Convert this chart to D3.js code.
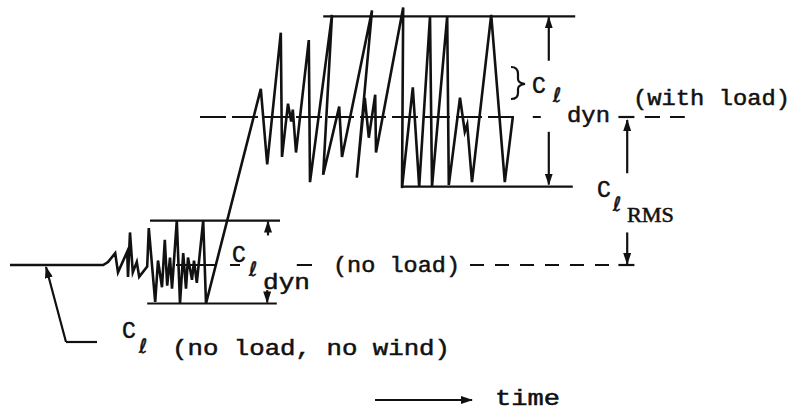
<!DOCTYPE html>
<html>
<head>
<meta charset="utf-8">
<script src="https://cdn.jsdelivr.net/npm/d3@7"></script>
<style>
  body { margin: 0; background: #fff; }
  text { fill: #111; stroke: #111; stroke-width: 0.5px; }
</style>
</head>
<body>
<div id="chart"></div>
<script>
// time in arbitrary units (0-100), Cl normalised: no-load mean = 0, with-load mean = 1
const noWindTime = [1.25, 12.9];
const noWindCl = [0, 0];

const noLoadTime = [13.5, 14.4, 14.75, 15.9, 16, 16.25, 16.6, 17.1, 17.4, 18.4, 18.6, 19.4, 19.75,
  20.25, 20.6, 20.9, 21.25, 21.5, 22.1, 22.5, 22.9, 23.25, 23.5, 24, 24.25, 24.6, 25.4, 25.75];
const noLoadCl = [0.02, 0.08, -0.05, 0.09, -0.08, 0.22, -0.05, 0.02, -0.08, -0.01, 0.25, -0.25, 0.03,
  -0.15, 0.17, -0.14, 0.05, -0.16, 0.30, -0.26, 0.08, -0.16, 0.05, -0.10, 0.03, -0.12, 0.30, -0.26];

const withLoadTime = [32.6, 33.4, 35.1, 35.25, 36, 36.4, 36.6, 37, 38.6, 38.75, 41.5, 40.4, 42.4, 42.75,
  46.5, 44.6, 45.6, 46.1, 46.9, 47, 50.4, 50.25, 51.6, 52.4, 53.75, 54, 55.9, 56.1, 57.5, 58.1, 58.4,
  59, 61.4, 63.1, 64.1];
const withLoadCl = [1.19, 0.68, 1.57, 0.73, 1.09, 0.97, 1.05, 0.76, 1.52, 0.56, 1.69, 0.61, 1.07, 0.73,
  1.72, 0.59, 1.13, 0.86, 1.15, 0.76, 1.74, 0.52, 1.20, 0.53, 1.68, 0.53, 1.68, 0.54, 1.13, 0.90, 0.95,
  0.56, 1.69, 0.56, 1.00];

// peak envelopes: [top, bottom] levels and their time extents
const noLoadBandCl = [0.30, -0.26];
const noLoadBandTime = [[18.75, 35], [18.4, 34.6]];
const withLoadBandCl = [1.68, 0.53];
const withLoadBandTime = [[40.4, 71.9], [50.25, 71.6]];

// dashed mean lines (time extents of the visible dash runs)
const noLoadMeanRuns = [[22, 27.1], [28.75, 30], [37.1, 39]];
const noLoadDashRuns = [[58.75, 76.25]];
const withLoadMeanRuns = [[25, 65]];
const withLoadDashRuns = [[66.6, 67.6], [80.6, 82.5], [83.75, 85.6]];

const width = 801;
const height = 414;
const mono = "'Liberation Mono', 'Courier New', 'DejaVu Sans Mono', monospace";
const script = "'DejaVu Sans', sans-serif";

const x = d3.scaleLinear().domain([0, 100]).range([0, 800]);
const y = d3.scaleLinear().domain([0, 1]).range([265, 117]);

const svg = d3
  .select('#chart')
  .append('svg')
  .attr('width', width)
  .attr('height', height);

svg.append('rect').attr('width', width).attr('height', height).attr('fill', '#fff');

svg
  .append('defs')
  .append('marker')
  .attr('id', 'head')
  .attr('viewBox', '0 0 12 8')
  .attr('refX', 11)
  .attr('refY', 4)
  .attr('markerWidth', 12)
  .attr('markerHeight', 8)
  .attr('markerUnits', 'userSpaceOnUse')
  .attr('orient', 'auto')
  .append('path')
  .attr('d', 'M0,0 L12,4 L0,8 Z')
  .attr('fill', '#111');

const ink = '#111';

// envelope lines
const bands = [
  [noLoadBandCl, noLoadBandTime],
  [withLoadBandCl, withLoadBandTime],
];
bands.forEach(([levels, spans]) => {
  levels.forEach((cl, i) => {
    svg
      .append('line')
      .attr('x1', x(spans[i][0]))
      .attr('x2', x(spans[i][1]))
      .attr('y1', y(cl))
      .attr('y2', y(cl))
      .attr('stroke', ink)
      .attr('stroke-width', 2.2);
  });
});

// mean lines
function runs(list, cl, dash) {
  list.forEach(r => {
    svg
      .append('line')
      .attr('x1', x(r[0]))
      .attr('x2', x(r[1]))
      .attr('y1', y(cl))
      .attr('y2', y(cl))
      .attr('stroke', ink)
      .attr('stroke-width', 2)
      .attr('stroke-dasharray', dash);
  });
}
runs(noLoadMeanRuns, 0, null);
runs(noLoadDashRuns, 0, '14,11');
runs(withLoadMeanRuns, 1, '26,6');
runs(withLoadDashRuns, 1, null);

// the trace
const times = noWindTime.concat(noLoadTime, withLoadTime);
const values = noWindCl.concat(noLoadCl, withLoadCl);
const line = d3
  .line()
  .x((d, i) => x(times[i]))
  .y(d => y(d));

svg
  .append('path')
  .datum(values)
  .attr('d', line)
  .attr('fill', 'none')
  .attr('stroke', ink)
  .attr('stroke-width', 2.6)
  .attr('stroke-linejoin', 'miter')
  .attr('stroke-miterlimit', 6);

// arrows
function arrow(x1, y1, x2, y2) {
  svg
    .append('line')
    .attr('x1', x1)
    .attr('y1', y1)
    .attr('x2', x2)
    .attr('y2', y2)
    .attr('stroke', ink)
    .attr('stroke-width', 2.2)
    .attr('marker-end', 'url(#head)');
}

// no-load dyn arrows
arrow(x(33.5), y(0.20), x(33.5), y(noLoadBandCl[0]) + 1);
arrow(x(33.4), y(-0.17), x(33.4), y(noLoadBandCl[1]) - 1);
// with-load dyn arrows
arrow(x(68.6), y(1.38), x(68.6), y(withLoadBandCl[0]) + 1);
arrow(x(68.6), y(0.90), x(68.6), y(withLoadBandCl[1]) - 2);
// RMS arrows with end bars
arrow(x(78.4), y(0.62), x(78.4), y(1) + 3);
arrow(x(78.4), y(0.22), x(78.4), y(0) - 1);
[0, 1].forEach(cl => {
  svg
    .append('line')
    .attr('x1', x(77.3))
    .attr('x2', x(79.3))
    .attr('y1', y(cl))
    .attr('y2', y(cl))
    .attr('stroke', ink)
    .attr('stroke-width', 2.2);
});
// no wind pointer
svg
  .append('line')
  .attr('x1', 66)
  .attr('y1', 342)
  .attr('x2', 97)
  .attr('y2', 342)
  .attr('stroke', ink)
  .attr('stroke-width', 2.2);
arrow(66, 342, 46, 267);
// time arrow
arrow(375, 400, 472, 400);

// brace
svg
  .append('path')
  .attr('d', 'M511,67 Q518,67 518,74 L518,79 Q518,83 525,84 Q518,85 518,89 L518,93 Q518,99 511,99')
  .attr('fill', 'none')
  .attr('stroke', ink)
  .attr('stroke-width', 2.2);

// labels
function label(t, px, py, size, opts = {}) {
  const el = svg
    .append('text')
    .attr('x', px)
    .attr('y', py)
    .style('font-family', opts.family || mono)
    .style('font-size', size + 'px')
    .text(t);
  if (opts.len) el.attr('textLength', opts.len).attr('lengthAdjust', 'spacingAndGlyphs');
  return el;
}

label('C', 232, 262, 23);
label('ℓ', 249, 276, 20, { family: script });
label('dyn', 263, 289, 22, { len: 47 });
label('(no load)', 333, 272, 22, { len: 127 });

label('C', 532, 93, 23);
label('ℓ', 553, 102, 20, { family: script });
label('dyn', 567, 122, 22, { len: 43 });
label('(with load)', 633, 105, 22, { len: 157 });

label('C', 597, 197, 23);
label('ℓ', 613, 211, 20, { family: script });
label('RMS', 627, 222, 20, { family: "'Liberation Serif', 'Times New Roman', serif", len: 47 });

label('C', 122, 338, 23);
label('ℓ', 139, 353, 20, { family: script });
label('(no load, no wind)', 172, 355, 22, { len: 278 });

label('time', 495, 405, 22, { len: 65 });
</script>
</body>
</html>
